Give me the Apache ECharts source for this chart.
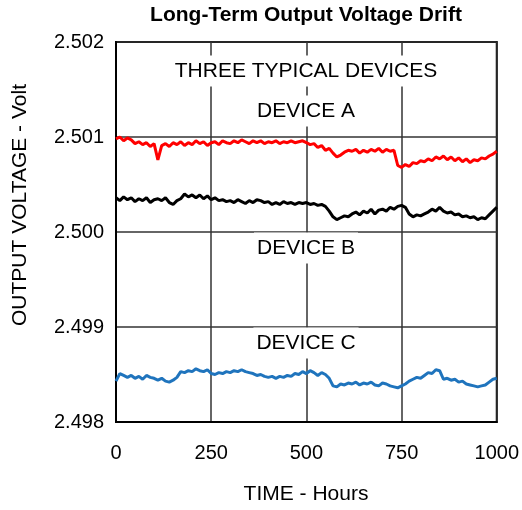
<!DOCTYPE html>
<html>
<head>
<meta charset="utf-8">
<script src="https://cdn.jsdelivr.net/npm/echarts@6/dist/echarts.min.js"></script>
<style>html,body{margin:0;padding:0;background:#fff}#c{width:522px;height:510px}</style>
</head>
<body>
<div id="c"></div>
<script>
const hours = [];
for (let h = 0; h <= 1000; h += 10) hours.push(h);

const xTicks = [0, 250, 500, 750, 1000];
const yTicks = [2.498, 2.499, 2.500, 2.501, 2.502];

const deviceA = [
2.50098,2.50100,2.50096,2.50099,2.50097,2.50093,2.50095,2.50092,2.50094,2.50090,
2.50093,2.50076,2.50091,2.50093,2.50090,2.50094,2.50092,2.50095,2.50091,2.50094,
2.50092,2.50096,2.50093,2.50095,2.50091,2.50094,2.50095,2.50092,2.50096,2.50094,
2.50093,2.50096,2.50094,2.50097,2.50095,2.50093,2.50096,2.50094,2.50096,2.50093,
2.50095,2.50094,2.50096,2.50093,2.50095,2.50094,2.50096,2.50094,2.50095,2.50096,
2.50094,2.50092,2.50093,2.50089,2.50091,2.50086,2.50088,2.50083,2.50079,2.50081,
2.50084,2.50086,2.50085,2.50087,2.50083,2.50086,2.50084,2.50087,2.50085,2.50088,
2.50084,2.50087,2.50085,2.50086,2.50070,2.50068,2.50071,2.50069,2.50073,2.50072,
2.50075,2.50074,2.50077,2.50075,2.50079,2.50077,2.50080,2.50076,2.50079,2.50075,
2.50078,2.50074,2.50077,2.50073,2.50076,2.50075,2.50078,2.50077,2.50080,2.50082,
2.50085];

const deviceB = [
2.50036,2.50033,2.50037,2.50034,2.50036,2.50032,2.50035,2.50033,2.50036,2.50031,
2.50034,2.50035,2.50033,2.50036,2.50031,2.50029,2.50033,2.50035,2.50040,2.50037,
2.50039,2.50036,2.50039,2.50035,2.50038,2.50034,2.50036,2.50033,2.50034,2.50032,
2.50033,2.50031,2.50034,2.50032,2.50030,2.50033,2.50031,2.50034,2.50033,2.50031,
2.50032,2.50029,2.50031,2.50029,2.50032,2.50030,2.50031,2.50029,2.50031,2.50030,
2.50031,2.50029,2.50030,2.50028,2.50029,2.50027,2.50022,2.50016,2.50013,2.50015,
2.50017,2.50016,2.50019,2.50021,2.50018,2.50022,2.50020,2.50024,2.50019,2.50023,
2.50024,2.50022,2.50026,2.50024,2.50027,2.50028,2.50026,2.50019,2.50016,2.50018,
2.50017,2.50019,2.50021,2.50024,2.50022,2.50026,2.50022,2.50020,2.50021,2.50018,
2.50019,2.50016,2.50017,2.50015,2.50016,2.50013,2.50015,2.50014,2.50018,2.50022,
2.50026];

const deviceC = [
2.49843,2.49851,2.49849,2.49847,2.49849,2.49846,2.49848,2.49845,2.49849,2.49847,
2.49846,2.49844,2.49846,2.49843,2.49842,2.49844,2.49847,2.49853,2.49852,2.49854,
2.49853,2.49856,2.49854,2.49853,2.49855,2.49851,2.49850,2.49852,2.49851,2.49853,
2.49852,2.49854,2.49853,2.49855,2.49853,2.49852,2.49851,2.49849,2.49850,2.49848,
2.49847,2.49848,2.49846,2.49848,2.49847,2.49849,2.49848,2.49851,2.49850,2.49853,
2.49851,2.49854,2.49852,2.49849,2.49852,2.49850,2.49846,2.49838,2.49837,2.49840,
2.49839,2.49841,2.49840,2.49842,2.49839,2.49841,2.49840,2.49842,2.49839,2.49838,
2.49841,2.49840,2.49838,2.49837,2.49836,2.49838,2.49840,2.49843,2.49845,2.49847,
2.49846,2.49849,2.49852,2.49851,2.49855,2.49854,2.49845,2.49846,2.49844,2.49845,
2.49842,2.49843,2.49840,2.49839,2.49838,2.49837,2.49838,2.49839,2.49842,2.49845,
2.49846];

const seriesNames = ['DEVICE A', 'DEVICE B', 'DEVICE C'];
const seriesColors = ['#ff0000', '#000000', '#1f74bd'];
const allData = [deviceA, deviceB, deviceC];

const FONT = '"Liberation Sans", Arial, sans-serif';
const chart = echarts.init(document.getElementById('c'));

function lbl(text, x, y) {
  return {
    type: 'text', z: 100, x: x, y: y,
    style: {
      text: text, font: '21px ' + FONT, fill: '#000',
      align: 'center', verticalAlign: 'middle',
      backgroundColor: '#fff', padding: [5, 3]
    }
  };
}

chart.setOption({
  animation: false,
  backgroundColor: '#fff',
  grid: { left: 116, right: 25, top: 42, bottom: 88, show: true, borderColor: '#000', borderWidth: 2, backgroundColor: 'transparent' },
  xAxis: {
    type: 'value', min: xTicks[0], max: xTicks[xTicks.length - 1], interval: 250,
    axisLine: { show: true, onZero: false, lineStyle: { color: '#000', width: 2 } },
    axisTick: { show: false },
    axisLabel: { color: '#000', fontSize: 20, fontFamily: FONT, margin: 21, formatter: v => String(v) },
    splitLine: { show: true, lineStyle: { color: '#333', width: 1.5 } }
  },
  yAxis: {
    type: 'value', min: yTicks[0], max: yTicks[yTicks.length - 1], interval: 0.001,
    axisLine: { show: true, onZero: false, lineStyle: { color: '#000', width: 2 } },
    axisTick: { show: false },
    axisLabel: { color: '#000', fontSize: 20, fontFamily: FONT, margin: 12, formatter: v => v.toFixed(3) },
    splitLine: { show: true, lineStyle: { color: '#333', width: 1.5 } }
  },
  series: allData.map((d, i) => ({
    name: seriesNames[i], type: 'line', showSymbol: false, symbol: 'none',
    data: hours.map((h, j) => [h, d[j]]),
    lineStyle: { color: seriesColors[i], width: 3 },
    z: 5
  })),
  graphic: [
    { type: 'text', z: 100, x: 306, y: 15, style: { text: 'Long-Term Output Voltage Drift', font: 'bold 21px ' + FONT, fill: '#000', align: 'center', verticalAlign: 'middle' } },
    { type: 'text', z: 100, x: 306, y: 494, style: { text: 'TIME - Hours', font: '21px ' + FONT, fill: '#000', align: 'center', verticalAlign: 'middle' } },
    { type: 'text', z: 100, x: 20, y: 205, rotation: Math.PI / 2, style: { text: 'OUTPUT VOLTAGE - Volt', font: '21px ' + FONT, fill: '#000', align: 'center', verticalAlign: 'middle' } },
    lbl('THREE TYPICAL DEVICES', 306, 71),
    lbl('DEVICE A', 306, 111),
    lbl('DEVICE B', 306, 248),
    lbl('DEVICE C', 306, 343)
  ]
});
</script>
</body>
</html>
